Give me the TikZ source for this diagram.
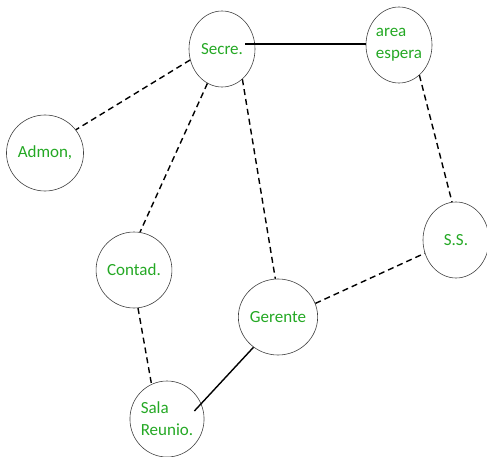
\documentclass[tikz,border=0pt]{standalone}
\usepackage{fontspec}
\setmainfont{Carlito}
\usetikzlibrary{shapes.geometric}
\definecolor{txtgreen}{RGB}{36,168,36}
\tikzset{
  room/.style={ellipse, draw=black!75, line width=0.6pt, minimum width=66pt, minimum height=76pt, inner sep=0pt, text=txtgreen, font=\fontsize{17}{22}\selectfont, align=left},
  link/.style={line width=1.4pt, black},
  dlink/.style={link, dash pattern=on 6pt off 4pt}
}
\begin{document}
\begin{tikzpicture}[x=1pt,y=-1pt]
\useasboundingbox (0,0) rectangle (487,457);
\node[room] (secre) at (222,49) {Secre.};
\node[room] (area) at (399,45) {area\\espera};
\node[room] (admon) at (45,153) {Admon,};
\node[room] (contad) at (134,270) {Contad.};
\node[room] (gerente) at (278,317) {Gerente};
\node[room] (sala) at (167,419) {Sala\\Reunio.};
\node[room] (ss) at (456,240) {S.S.};
\coordinate (sa) at ([xshift=-10pt,yshift=5pt]secre.east);
\coordinate (sr) at ([xshift=-10pt,yshift=8pt]sala.east);
\draw[link] (sa) -- (sa -| area.west);
\draw[dlink] (secre.-161) -- (admon.37);
\draw[dlink] (secre.-113) -- (contad.81);
\draw[dlink] (secre.-56) -- (gerente.94);
\draw[dlink] (area.-56) -- (ss.96);
\draw[dlink] (contad.-84) -- (sala.114);
\draw[dlink] (gerente.20) -- (ss.203);
\draw[link] (gerente.231) -- (sr);
\end{tikzpicture}
\end{document}
